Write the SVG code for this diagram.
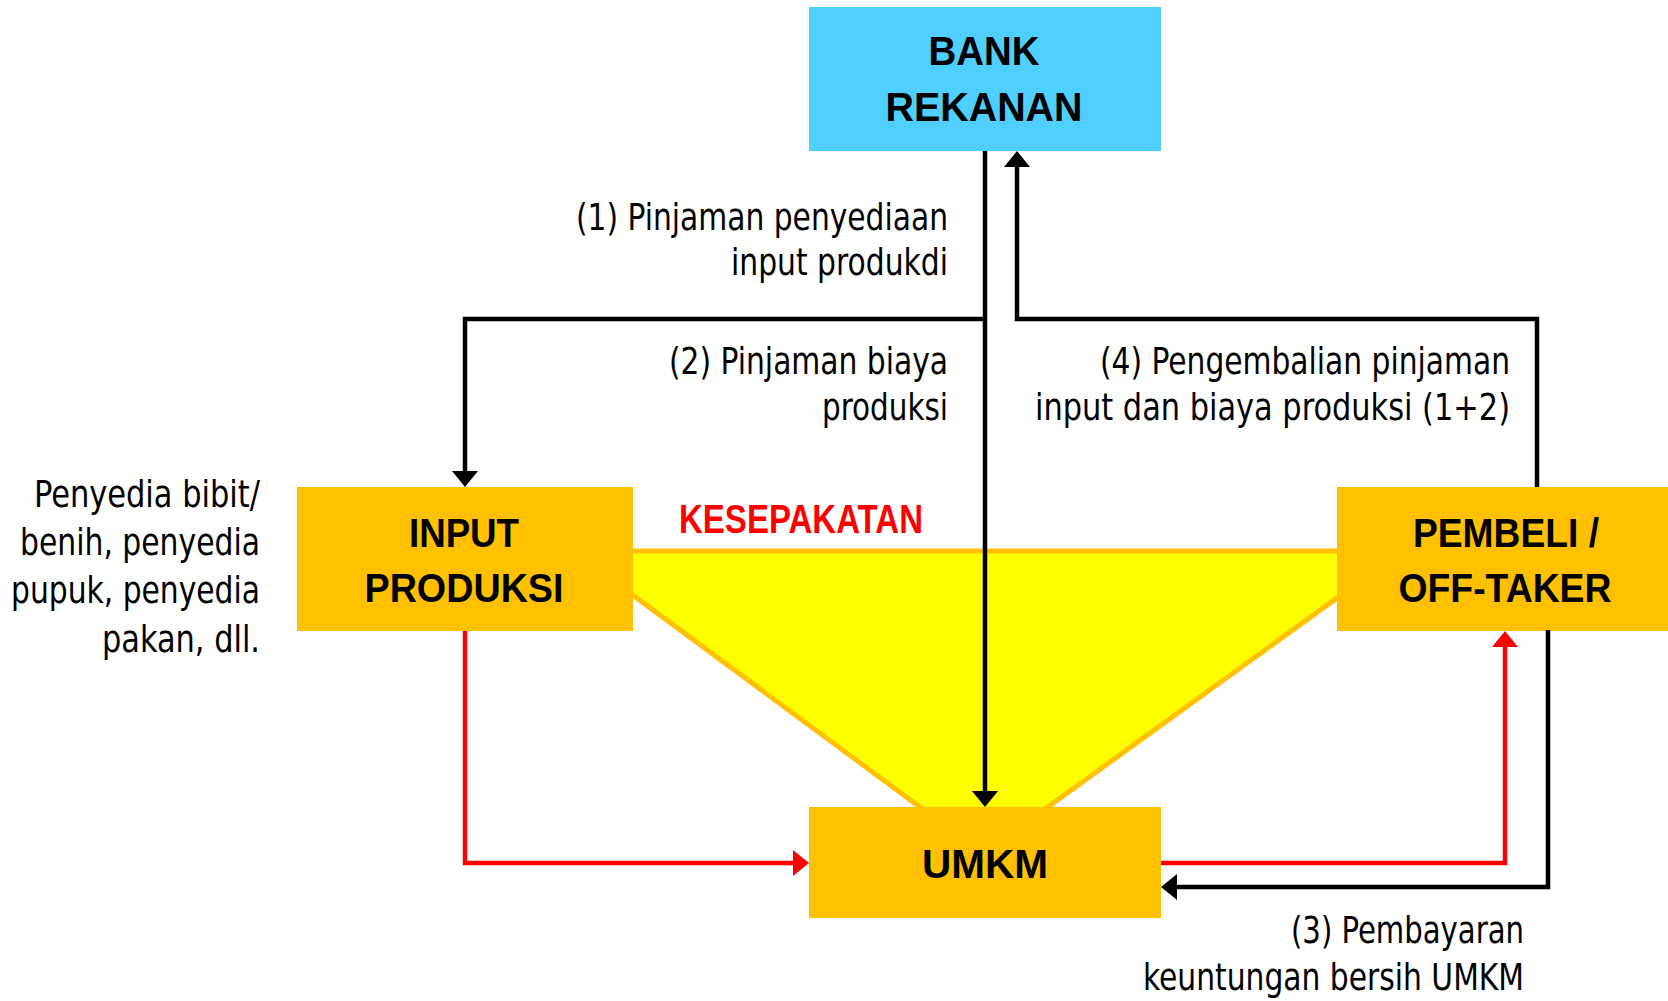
<svg xmlns="http://www.w3.org/2000/svg" width="1668" height="1001" viewBox="0 0 1668 1001">
<style>
.box{fill:#FFC000;}
.bank{fill:#4FCFFF;}
.lbl{font-family:"Liberation Sans",Arial,sans-serif;font-weight:bold;font-size:40px;fill:#000;text-anchor:middle;}
.txt{font-family:"Liberation Sans Narrow","DejaVu Sans Condensed","Liberation Sans",sans-serif;font-size:38px;fill:#000;text-anchor:end;}
.blk{fill:none;stroke:#000;stroke-width:4.5;}
.red{fill:none;stroke:#FF0000;stroke-width:4.5;}
</style>
<defs>
<marker id="ab" markerUnits="userSpaceOnUse" markerWidth="16" markerHeight="26" refX="8" refY="13" orient="auto" viewBox="0 0 16 26"><path d="M0,0 L16,13 L0,26 z" fill="#000"/></marker>
<marker id="ar" markerUnits="userSpaceOnUse" markerWidth="16" markerHeight="26" refX="8" refY="13" orient="auto" viewBox="0 0 16 26"><path d="M0,0 L16,13 L0,26 z" fill="#FF0000"/></marker>
</defs>
<rect width="1668" height="1001" fill="#fff"/>
<g id="kesepakatan">
<polygon points="573,551 1402,551 1016,830 951,830" fill="#FFFF00" stroke="#FFC000" stroke-width="5"/>
<text x="801" y="533" font-family="Liberation Sans,Arial,sans-serif" font-weight="bold" font-size="40" fill="#FF0000" text-anchor="middle" textLength="244" lengthAdjust="spacingAndGlyphs">KESEPAKATAN</text>
</g>
<g id="bank">
<rect class="bank" x="809" y="7" width="352" height="144"/>
<text class="lbl" x="984" y="65" textLength="111" lengthAdjust="spacingAndGlyphs">BANK</text>
<text class="lbl" x="984" y="121" textLength="197" lengthAdjust="spacingAndGlyphs">REKANAN</text>
</g>
<g id="input">
<rect class="box" x="297" y="487" width="336" height="144"/>
<text class="lbl" x="464" y="547" textLength="110" lengthAdjust="spacingAndGlyphs">INPUT</text>
<text class="lbl" x="464" y="602" textLength="199" lengthAdjust="spacingAndGlyphs">PRODUKSI</text>
</g>
<g id="pembeli">
<rect class="box" x="1337" y="487" width="331" height="144"/>
<text class="lbl" x="1506" y="547" textLength="186" lengthAdjust="spacingAndGlyphs">PEMBELI /</text>
<text class="lbl" x="1505" y="602" textLength="213" lengthAdjust="spacingAndGlyphs">OFF-TAKER</text>
</g>
<g id="umkm">
<rect class="box" x="809" y="807" width="352" height="111"/>
<text class="lbl" x="985" y="878" textLength="126" lengthAdjust="spacingAndGlyphs">UMKM</text>
</g>
<g id="connectors">
<path class="blk" d="M985,151 V799" marker-end="url(#ab)"/>
<path class="blk" d="M987,319 H465 V479" marker-end="url(#ab)"/>
<path class="blk" d="M1537,487 V319 H1017 V159" marker-end="url(#ab)"/>
<path class="red" d="M465,631 V863 H801" marker-end="url(#ar)"/>
<path class="red" d="M1161,863 H1505 V639" marker-end="url(#ar)"/>
<path class="blk" d="M1548,630 V887 H1169" marker-end="url(#ab)"/>
</g>
<g id="labels">
<text class="txt" x="948" y="230" textLength="372" lengthAdjust="spacingAndGlyphs">(1) Pinjaman penyediaan</text>
<text class="txt" x="948" y="275" textLength="217" lengthAdjust="spacingAndGlyphs">input produkdi</text>
<text class="txt" x="948" y="374" textLength="279" lengthAdjust="spacingAndGlyphs">(2) Pinjaman biaya</text>
<text class="txt" x="948" y="420" textLength="126" lengthAdjust="spacingAndGlyphs">produksi</text>
<text class="txt" x="1510" y="374" textLength="410" lengthAdjust="spacingAndGlyphs">(4) Pengembalian pinjaman</text>
<text class="txt" x="1510" y="420" textLength="475" lengthAdjust="spacingAndGlyphs">input dan biaya produksi (1+2)</text>
<text class="txt" x="260" y="507" textLength="226" lengthAdjust="spacingAndGlyphs">Penyedia bibit/</text>
<text class="txt" x="260" y="555" textLength="240" lengthAdjust="spacingAndGlyphs">benih, penyedia</text>
<text class="txt" x="260" y="603" textLength="249" lengthAdjust="spacingAndGlyphs">pupuk, penyedia</text>
<text class="txt" x="260" y="652" textLength="158" lengthAdjust="spacingAndGlyphs">pakan, dll.</text>
<text class="txt" x="1524" y="943" textLength="233" lengthAdjust="spacingAndGlyphs">(3) Pembayaran</text>
<text class="txt" x="1524" y="990" textLength="381" lengthAdjust="spacingAndGlyphs">keuntungan bersih UMKM</text>
</g>
</svg>
